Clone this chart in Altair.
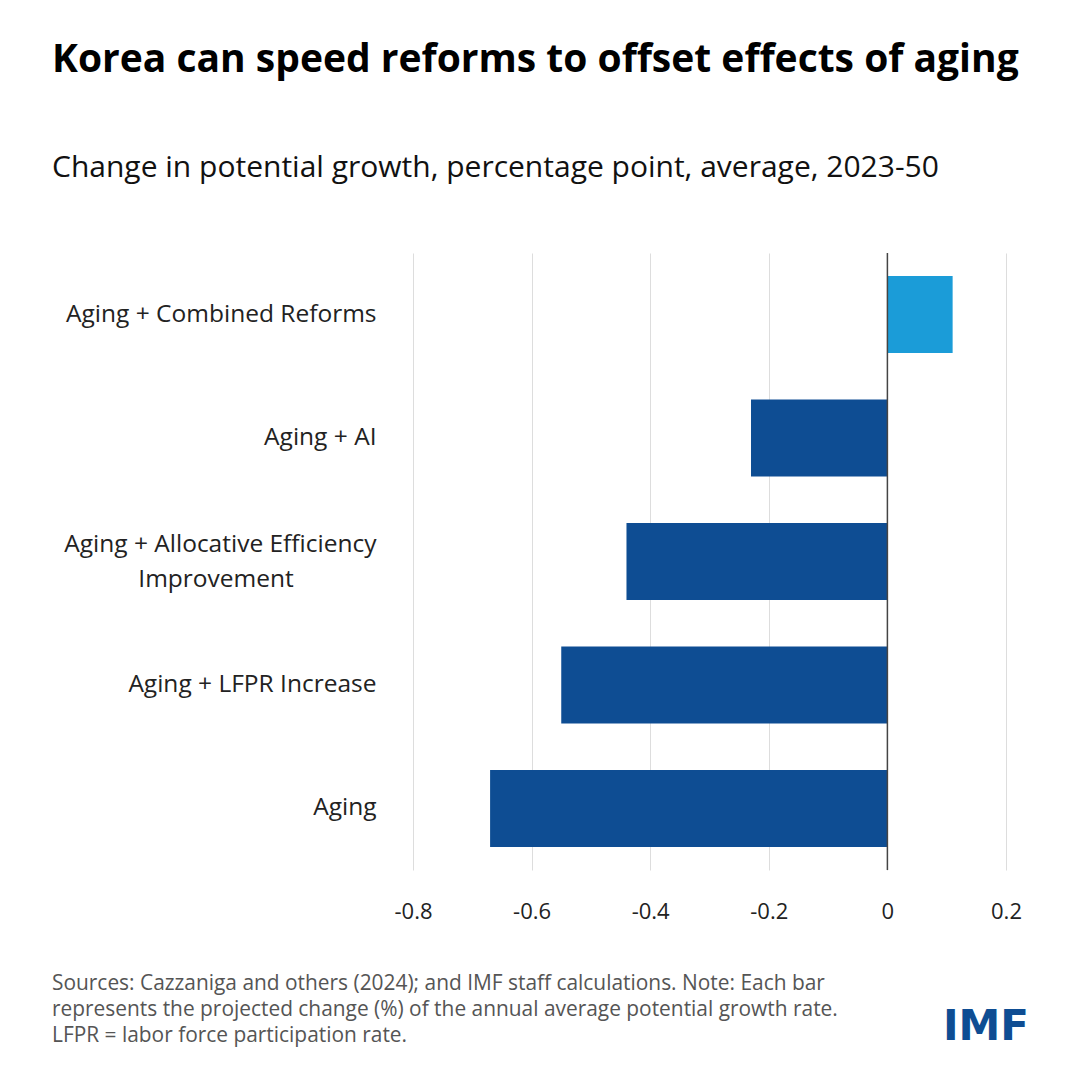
import pandas as pd
import altair as alt

NBSP = "\u00a0"
ZWSP = "\u200b"  # keeps the trailing spaces from being trimmed

scenarios = [
    "Aging + Combined Reforms",
    "Aging + AI",
    "Aging + Allocative Efficiency|Improvement" + NBSP * 13 + ZWSP,
    "Aging + LFPR Increase",
    "Aging",
]
values = [0.11, -0.23, -0.44, -0.55, -0.67]
x_ticks = [-0.8, -0.6, -0.4, -0.2, 0, 0.2]

footnote = [
    "Sources: Cazzaniga and others (2024); and IMF staff calculations. Note: Each bar",
    "represents the projected change (%) of the annual average potential growth rate.",
    "LFPR = labor force participation rate.",
]

DARK = "#0e4d93"
LIGHT = "#1b9cd8"
FONT = "Open Sans"

df = pd.DataFrame({"scenario": scenarios, "value": values})

x_scale = alt.Scale(domain=[-0.8, 0.2], nice=False, zero=False)

bars = (
    alt.Chart(df)
    .mark_bar()
    .encode(
        alt.X(
            "value:Q",
            scale=x_scale,
            axis=alt.Axis(
                values=x_ticks,
                labelExpr="datum.value == 0 ? '0' : replace(format(datum.value, '.1f'), '\u2212', '-')",
                title=None,
                domain=False,
                ticks=False,
                grid=True,
                gridColor="#dddddd",
                labelFlush=False,
                labelFont=FONT,
                labelFontSize=22,
                labelColor="#222222",
                labelPadding=31,
            ),
        ),
        alt.Y(
            "scenario:N",
            sort=scenarios,
            scale=alt.Scale(paddingInner=0.376, paddingOuter=0.186),
            axis=alt.Axis(
                title=None,
                domain=False,
                ticks=False,
                labelExpr="split(datum.label, '|')",
                labelOffset={
                    "condition": {"test": "indexof(datum.value, '|') >= 0", "value": -17},
                    "value": 0,
                },
                labelFont=FONT,
                labelFontSize=24.5,
                labelColor="#222222",
                labelPadding=37,
                labelLimit=400,
                labelLineHeight=35,
            ),
        ),
        color=alt.condition(alt.datum.value > 0, alt.value(LIGHT), alt.value(DARK)),
    )
)

zero = (
    alt.Chart(pd.DataFrame({"x": [0]}))
    .mark_rule(color="#444444", strokeWidth=1.5)
    .encode(x=alt.X("x:Q", scale=x_scale))
)

notes = (
    alt.Chart(pd.DataFrame({"t": ["\n".join(footnote)]}))
    .mark_text(
        align="left",
        baseline="top",
        font=FONT,
        fontSize=20.9,
        color="#555555",
        lineBreak="\n",
        lineHeight=26,
    )
    .encode(text="t:N", x=alt.value(-361), y=alt.value(720))
)

logo = (
    alt.Chart(pd.DataFrame({"t": ["IMF"]}))
    .mark_text(
        align="right",
        baseline="alphabetic",
        font="DejaVu Sans",
        fontWeight="bold",
        fontSize=42,
        color=DARK,
    )
    .encode(text="t:N", x=alt.value(616), y=alt.value(787))
)

chart = (
    alt.layer(bars, zero, notes, logo)
    .properties(
        width=593,
        height=617,
        padding={"left": 405, "top": 245, "right": 66, "bottom": 200},
        autosize=alt.AutoSizeParams(type="none"),
        title=alt.TitleParams(
            text="Korea can speed reforms to offset effects of aging",
            subtitle="Change in potential growth, percentage point, average, 2023-50",
            anchor="start",
            frame="group",
            dx=-361,
            offset=69,
            font=FONT,
            fontSize=39,
            fontWeight="bold",
            color="#000000",
            subtitleFont=FONT,
            subtitleFontSize=30,
            subtitleColor="#111111",
            subtitlePadding=73,
        ),
    )
    .configure_view(stroke=None)
)

chart.save("out.html", embed_options={"renderer": "svg", "actions": False})
